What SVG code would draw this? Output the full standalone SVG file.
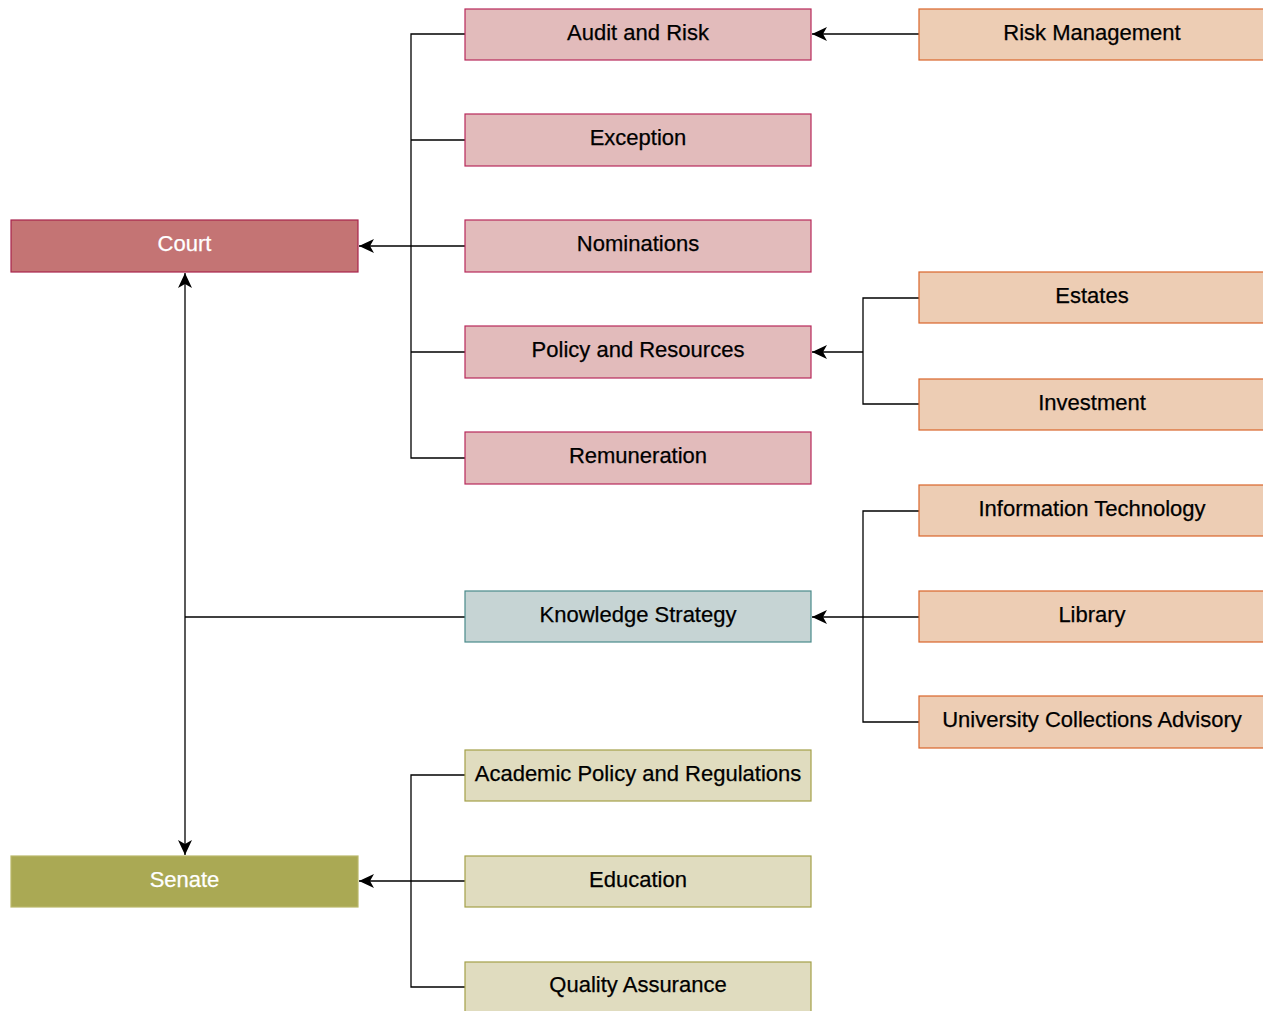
<svg xmlns="http://www.w3.org/2000/svg" width="1263" height="1011" viewBox="0 0 1263 1011">
<defs>
<marker id="arr" markerUnits="userSpaceOnUse" markerWidth="16" markerHeight="14" viewBox="0 0 16 14" refX="15" refY="7" orient="auto">
<path d="M0,0 L15,7 L0,14 L4,7 Z" fill="#000"/>
</marker>
<style>
text{font-family:"Liberation Sans",Arial,Helvetica,sans-serif;font-size:22px;text-anchor:middle;fill:#000;stroke:#000;stroke-width:0.25}
.w{fill:#fff;stroke:#fff}
.court{fill:#c47474;stroke:#a8244c;stroke-width:1.2}
.cc{fill:#e2bbbb;stroke:#b8285a;stroke-width:1.2}
.or{fill:#edcdb4;stroke:#d9652a;stroke-width:1.2}
.ks{fill:#c6d4d4;stroke:#4a8a8a;stroke-width:1.2}
.sen{fill:#aaa954;stroke:#b9b86a;stroke-width:1.2}
.sc{fill:#e0dcbf;stroke:#a3a048;stroke-width:1.2}
.c{fill:none;stroke:#000;stroke-width:1.3}
</style>
</defs>
<g id="connectors">
<path class="c" d="M465,34 H411 V458 H465 M465,140 H411 M465,352 H411"/>
<path class="c" d="M465,246 H359" marker-end="url(#arr)"/>
<path class="c" d="M919,34 H812" marker-end="url(#arr)"/>
<path class="c" d="M919,298 H863 V404 H919"/>
<path class="c" d="M863,352 H812" marker-end="url(#arr)"/>
<path class="c" d="M919,511 H863 V722 H919"/>
<path class="c" d="M919,617 H812" marker-end="url(#arr)"/>
<path class="c" d="M465,775 H411 V987 H465"/>
<path class="c" d="M465,881 H359" marker-end="url(#arr)"/>
<path class="c" d="M185,565 V273" marker-end="url(#arr)"/>
<path class="c" d="M185,565 V855" marker-end="url(#arr)"/>
<path class="c" d="M465,617 H185"/>
</g>
<g id="court"><rect class="court" x="11" y="220" width="347" height="52"/><text class="w" x="184.5" y="251">Court</text></g>
<g id="senate"><rect class="sen" x="11" y="856" width="347" height="51"/><text class="w" x="184.5" y="887">Senate</text></g>
<g id="audit"><rect class="cc" x="465" y="9" width="346" height="51"/><text x="638" y="40">Audit and Risk</text></g>
<g id="exception"><rect class="cc" x="465" y="114" width="346" height="52"/><text x="638" y="145">Exception</text></g>
<g id="nominations"><rect class="cc" x="465" y="220" width="346" height="52"/><text x="638" y="251">Nominations</text></g>
<g id="policy"><rect class="cc" x="465" y="326" width="346" height="52"/><text x="638" y="357">Policy and Resources</text></g>
<g id="remuneration"><rect class="cc" x="465" y="432" width="346" height="52"/><text x="638" y="463">Remuneration</text></g>
<g id="knowledge"><rect class="ks" x="465" y="591" width="346" height="51"/><text x="638" y="622">Knowledge Strategy</text></g>
<g id="academic"><rect class="sc" x="465" y="750" width="346" height="51"/><text x="638" y="781">Academic Policy and Regulations</text></g>
<g id="education"><rect class="sc" x="465" y="856" width="346" height="51"/><text x="638" y="887">Education</text></g>
<g id="quality"><rect class="sc" x="465" y="962" width="346" height="52"/><text x="638" y="992">Quality Assurance</text></g>
<g id="risk"><rect class="or" x="919" y="9" width="348" height="51"/><text x="1092" y="40">Risk Management</text></g>
<g id="estates"><rect class="or" x="919" y="272" width="348" height="51"/><text x="1092" y="303">Estates</text></g>
<g id="investment"><rect class="or" x="919" y="379" width="348" height="51"/><text x="1092" y="410">Investment</text></g>
<g id="it"><rect class="or" x="919" y="485" width="348" height="51"/><text x="1092" y="516">Information Technology</text></g>
<g id="library"><rect class="or" x="919" y="591" width="348" height="51"/><text x="1092" y="622">Library</text></g>
<g id="uca"><rect class="or" x="919" y="696" width="348" height="52"/><text x="1092" y="727">University Collections Advisory</text></g>
</svg>
